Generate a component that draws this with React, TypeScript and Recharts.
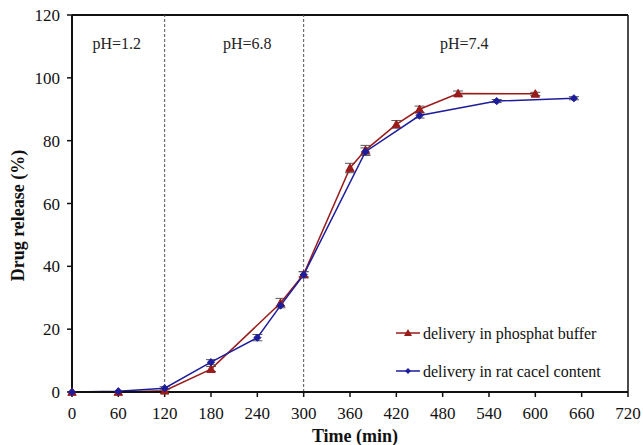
import React from 'react';
import {
  LineChart, Line, XAxis, YAxis, ReferenceLine, ReferenceDot, ErrorBar,
} from 'recharts';

const xTicks = [0, 60, 120, 180, 240, 300, 360, 420, 480, 540, 600, 660, 720];
const yTicks = [0, 20, 40, 60, 80, 100, 120];

const bufferTime = [0, 60, 120, 180, 270, 300, 360, 380, 420, 450, 500, 600];
const bufferRelease = [0, 0, 0.4, 7.3, 28.3, 37.5, 71.3, 77, 85.2, 90, 95, 94.9];
const bufferError = [0, 0, 0, 0.8, 1.5, 0.8, 1.5, 1.5, 1.2, 1, 0.8, 0.5];

const cecalTime = [0, 60, 120, 180, 240, 270, 300, 380, 450, 550, 650];
const cecalRelease = [0, 0.2, 1.2, 9.5, 17.3, 27.5, 37.3, 76.5, 88, 92.6, 93.5];
const cecalError = [0, 0, 0.5, 0.8, 1, 0, 1, 1.2, 0.8, 0.5, 0.5];

const phLabels = ['pH=1.2', 'pH=6.8', 'pH=7.4'];
const phLabelX = [58, 227, 508];
const phLabelY = 111;
const phBoundaries = [120, 300];

const seriesNames = ['delivery in phosphat buffer', 'delivery in rat cacel content'];
const RED = '#9a1b1b';
const BLUE = '#1c1c9c';

const bufferData = bufferTime.map((t, i) => ({ t, v: bufferRelease[i], e: bufferError[i] }));
const cecalData = cecalTime.map((t, i) => ({ t, v: cecalRelease[i], e: cecalError[i] }));

const FONT = '"Liberation Serif", Tinos, "Times New Roman", "DejaVu Serif", serif';

const Triangle = (props: any) => {
  const { cx, cy } = props;
  if (cx == null || cy == null) return null;
  const s = 4.2;
  return <path d={`M${cx},${cy - s} L${cx + s},${cy + s * 0.8} L${cx - s},${cy + s * 0.8} Z`} fill={RED} stroke={RED} />;
};

const Diamond = (props: any) => {
  const { cx, cy } = props;
  if (cx == null || cy == null) return null;
  const s = 3.6;
  return <path d={`M${cx},${cy - s} L${cx + s},${cy} L${cx},${cy + s} L${cx - s},${cy} Z`} fill={BLUE} stroke={BLUE} />;
};

const LegendBox = () => (
  <div style={{ position: 'absolute', left: 396, top: 323.5, fontFamily: FONT, fontSize: 16, color: '#111', lineHeight: '19px' }}>
    {seriesNames.map((name, i) => (
      <div key={name} style={{ display: 'flex', alignItems: 'center', height: 19, marginBottom: i === 0 ? 19 : 0, whiteSpace: 'nowrap' }}>
        <svg width={25} height={12}>
          <line x1={0} y1={6} x2={24} y2={6} stroke={i === 0 ? RED : BLUE} strokeWidth={1.5} />
          {i === 0 ? (
            <path d="M12,2 L16,9 L8,9 Z" fill={RED} />
          ) : (
            <path d="M12,3 L15,6 L12,9 L9,6 Z" fill={BLUE} />
          )}
        </svg>
        <span style={{ marginLeft: 2 }}>{name}</span>
      </div>
    ))}
  </div>
);

const PhLabel = (props: any) => {
  const { viewBox, value } = props;
  return (
    <text x={viewBox.x + viewBox.width / 2} y={viewBox.y + viewBox.height / 2} textAnchor="middle" dominantBaseline="central"
      style={{ fontFamily: FONT, fontSize: 16 }} fill="#222">{value}</text>
  );
};

export default function App() {
  return (
    <div style={{ position: 'absolute', left: 0, top: 0, width: 643, height: 445, background: '#fff' }}>
      <LineChart width={643} height={445} margin={{ top: 15, right: 15, bottom: 0, left: 0 }}>
        <XAxis
          dataKey="t" type="number" domain={[0, 720]} ticks={xTicks} allowDuplicatedCategory={false}
          axisLine={{ stroke: '#111', strokeWidth: 2 }} tickLine={{ stroke: '#111', strokeWidth: 1.5 }}
          tickSize={5} tickMargin={10} height={53}
          tick={{ style: { fontFamily: FONT }, fontSize: 17, fill: '#111' }}
          label={{ value: 'Time (min)', position: 'insideBottom', offset: 0, dx: 5, dy: -3, style: { fontFamily: FONT, fontSize: 18, fontWeight: 'bold', fill: '#111' } }}
        />
        <YAxis
          type="number" domain={[0, 120]} ticks={yTicks} width={72}
          axisLine={{ stroke: '#111', strokeWidth: 2 }} tickLine={{ stroke: '#111', strokeWidth: 1.5 }}
          tickSize={5} tickMargin={7}
          tick={{ style: { fontFamily: FONT }, fontSize: 17, fill: '#111' }}
          label={{ value: 'Drug release (%)', angle: -90, position: 'insideLeft', offset: 18, dy: 12, style: { textAnchor: 'middle', fontFamily: FONT, fontSize: 18, fontWeight: 'bold', fill: '#111' } }}
        />
        <ReferenceLine y={120} stroke="#111" strokeWidth={2} />
        <ReferenceLine x={720} stroke="#111" strokeWidth={1.5} />
        {phBoundaries.map((b) => (
          <ReferenceLine key={b} x={b} stroke="#555" strokeDasharray="3 2" strokeWidth={1} />
        ))}
        {phLabels.map((lab, i) => (
          <ReferenceDot key={lab} x={phLabelX[i]} y={phLabelY} r={0} fill="none" stroke="none"
            label={<PhLabel value={lab} />} />
        ))}
        <Line data={bufferData} dataKey="v" name={seriesNames[0]} stroke={RED} strokeWidth={1.5}
          dot={<Triangle />} activeDot={false} isAnimationActive={false}>
          <ErrorBar dataKey="e" width={5} stroke="#555" strokeWidth={1} />
        </Line>
        <Line data={cecalData} dataKey="v" name={seriesNames[1]} stroke={BLUE} strokeWidth={1.5}
          dot={<Diamond />} activeDot={false} isAnimationActive={false}>
          <ErrorBar dataKey="e" width={5} stroke="#555" strokeWidth={1} />
        </Line>
      </LineChart>
      <LegendBox />
    </div>
  );
}
